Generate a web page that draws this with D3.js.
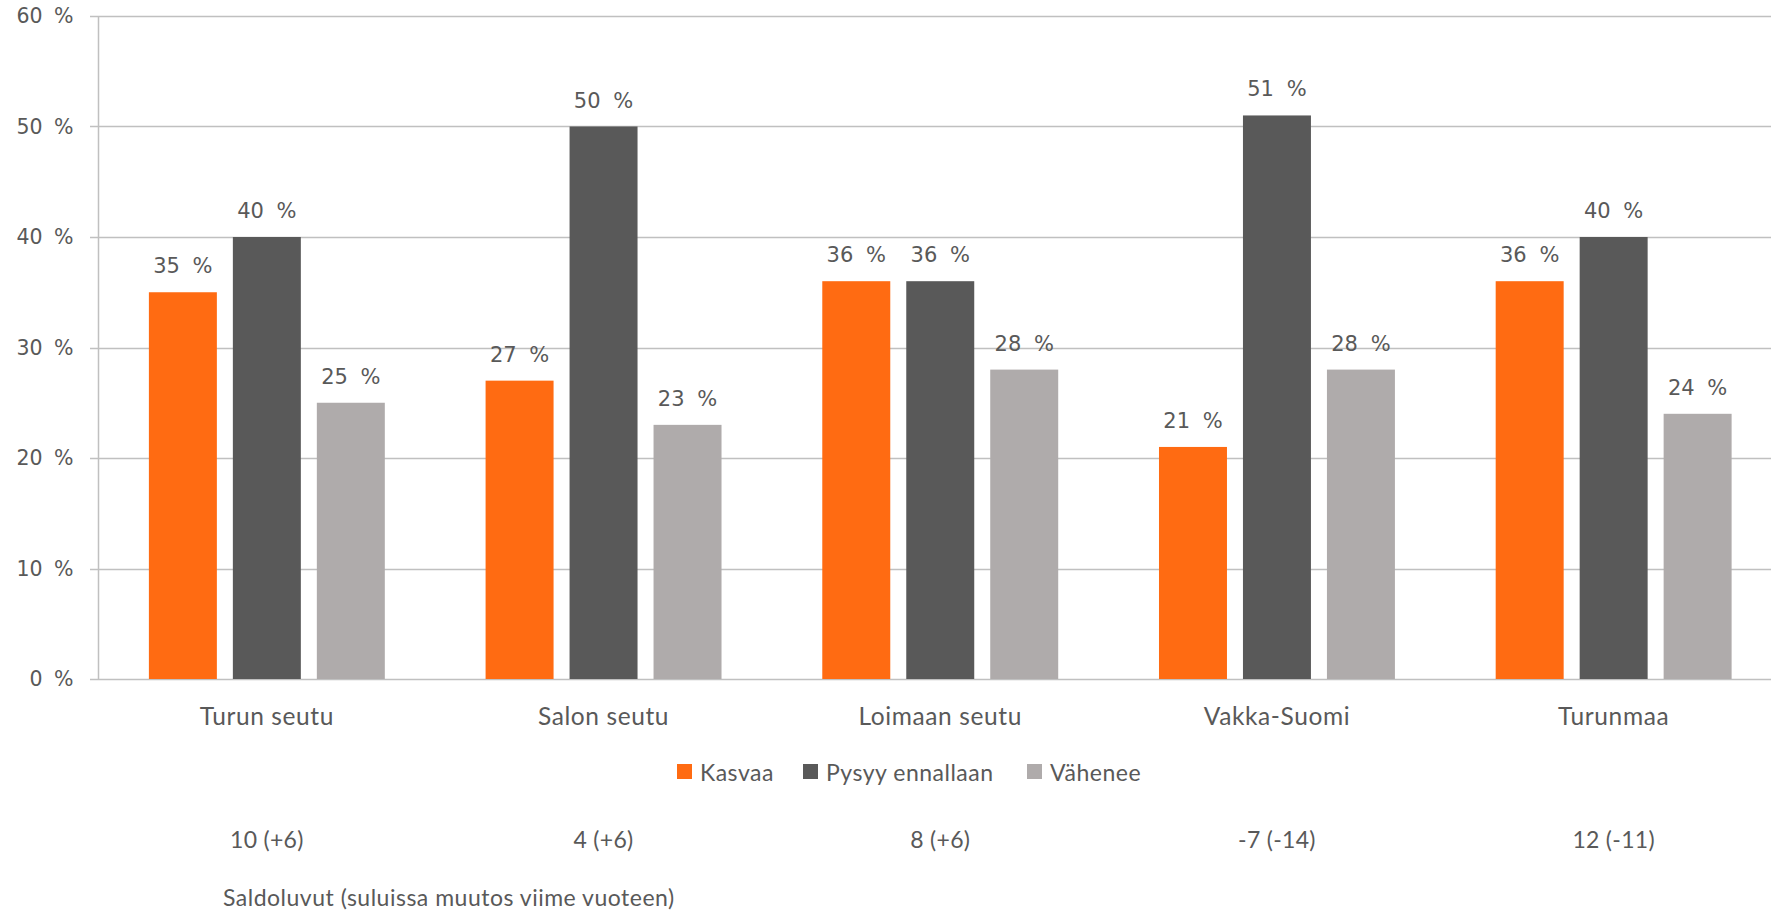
<!DOCTYPE html>
<html>
<head>
<meta charset="utf-8">
<script src="https://cdn.jsdelivr.net/npm/d3@7"></script>
<style>
  html, body { margin: 0; padding: 0; background: #fff; }
  svg { display: block; }
</style>
</head>
<body>
<svg id="chart" width="1771" height="914"></svg>
<script>
const categories = ["Turun seutu", "Salon seutu", "Loimaan seutu", "Vakka-Suomi", "Turunmaa"];
const seriesNames = ["Kasvaa", "Pysyy ennallaan", "Vähenee"];
const kasvaa = [35, 27, 36, 21, 36];
const pysyy = [40, 50, 36, 51, 40];
const vahenee = [25, 23, 28, 28, 24];
const saldo = ["10 (+6)", "4 (+6)", "8 (+6)", "-7 (-14)", "12 (-11)"];
const saldoTitle = "Saldoluvut (suluissa muutos viime vuoteen)";
const yTicks = [0, 10, 20, 30, 40, 50, 60];
const colors = ["#ff6b12", "#595959", "#afabab"];

const seriesValues = [kasvaa, pysyy, vahenee];
const data = categories.map((c, i) => ({
  cat: c,
  vals: seriesNames.map((s, j) => ({ series: s, j, value: seriesValues[j][i] }))
}));

const svg = d3.select("#chart");
const textColor = "#595959";
const gridColor = "#c0c0c0";
const numFont = "'DejaVu Sans', Verdana, sans-serif";
const txtFont = "Lato, 'Open Sans', sans-serif";

const plotLeft = 98.5, plotRight = 1782, plotTop = 16, plotBottom = 679;

const y = d3.scaleLinear().domain([0, 60]).range([plotBottom, plotTop]);
const x = d3.scaleBand().domain(categories).range([plotLeft, plotRight]).paddingInner(0).paddingOuter(0);
const xs = d3.scaleBand().domain(seriesNames).range([0, x.bandwidth()]).paddingInner(16/84).paddingOuter(0.6);

// gridlines
svg.append("g").selectAll("line").data(yTicks).join("line")
  .attr("x1", 90).attr("x2", 1771)
  .attr("y1", d => Math.round(y(d)) + 0.5).attr("y2", d => Math.round(y(d)) + 0.5)
  .attr("stroke", gridColor).attr("stroke-width", 1.5);

// y axis line
svg.append("line")
  .attr("x1", plotLeft).attr("x2", plotLeft)
  .attr("y1", y(60)).attr("y2", y(0) + 1)
  .attr("stroke", gridColor).attr("stroke-width", 1.5);

// y axis labels
const yAxis = d3.axisLeft(y).tickValues(yTicks).tickSize(0).tickPadding(25).tickFormat(d => d + " %");
const yg = svg.append("g").attr("transform", `translate(${plotLeft},0)`).call(yAxis);
yg.select(".domain").remove();
yg.selectAll("text")
  .attr("fill", textColor)
  .style("font-family", numFont)
  .style("font-size", "20.5px")
  .style("word-spacing", "5px");

// bars
const groups = svg.append("g").selectAll("g").data(data).join("g")
  .attr("transform", d => `translate(${x(d.cat)},0)`);

groups.selectAll("rect").data(d => d.vals).join("rect")
  .attr("x", d => xs(d.series))
  .attr("width", xs.bandwidth())
  .attr("y", d => y(d.value))
  .attr("height", d => y(0) - y(d.value))
  .attr("fill", d => colors[d.j]);

groups.selectAll("text.val").data(d => d.vals).join("text")
  .attr("class", "val")
  .attr("x", d => xs(d.series) + xs.bandwidth() / 2)
  .attr("y", d => y(d.value) - 19)
  .attr("text-anchor", "middle")
  .attr("fill", textColor)
  .style("font-family", numFont)
  .style("font-size", "21px")
  .style("word-spacing", "6px")
  .text(d => d.value + " %");

// category labels
svg.append("g").selectAll("text").data(categories).join("text")
  .attr("x", d => x(d) + x.bandwidth() / 2)
  .attr("y", 725)
  .attr("text-anchor", "middle")
  .attr("fill", textColor)
  .style("font-family", txtFont)
  .style("font-size", "24.5px")
  .style("letter-spacing", "0.6px")
  .text(d => d);

// legend
const legendX = [677, 803, 1027];
const legend = svg.append("g").selectAll("g").data(seriesNames).join("g")
  .attr("transform", (d, i) => `translate(${legendX[i]},764)`);
legend.append("rect").attr("width", 15).attr("height", 15).attr("fill", (d, i) => colors[i]);
legend.append("text")
  .attr("x", 23).attr("y", 17)
  .attr("fill", textColor)
  .style("font-family", txtFont)
  .style("font-size", "23px")
  .style("letter-spacing", "0.5px")
  .text(d => d);

// saldo row
svg.append("g").selectAll("text").data(saldo).join("text")
  .attr("x", (d, i) => x(categories[i]) + x.bandwidth() / 2)
  .attr("y", 848)
  .attr("text-anchor", "middle")
  .attr("fill", textColor)
  .style("font-family", txtFont)
  .style("font-size", "23px")
  .style("letter-spacing", "0.3px")
  .text(d => d);

svg.append("text")
  .attr("x", 223).attr("y", 906)
  .attr("fill", textColor)
  .style("font-family", txtFont)
  .style("font-size", "23px")
  .style("letter-spacing", "0.5px")
  .text(saldoTitle);
</script>
</body>
</html>
